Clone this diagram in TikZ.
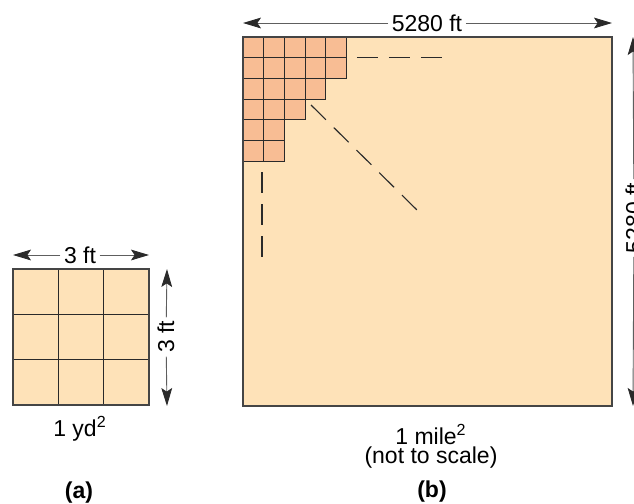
\documentclass[tikz,border=0pt]{standalone}
\usepackage{fontspec}
\setmainfont{Liberation Sans}
\usetikzlibrary{arrows.meta}
\definecolor{AreaFill}{HTML}{FEE2B8}
\definecolor{CellFill}{HTML}{F8BD94}
\definecolor{EdgeGray}{HTML}{454545}
\definecolor{GridDark}{HTML}{2A2A2A}
\definecolor{DimGray}{HTML}{5E5E5E}
\tikzset{
  dimarrow/.style={-{Stealth[length=9pt, width=5.4pt, inset=1.8pt, color=GridDark]}, line width=0.45pt, draw=DimGray},
  dimlabel/.style={fill=white, inner sep=1.6pt, font=\fontsize{11.5}{13}\selectfont},
  caption/.style={align=center, inner sep=0pt, font=\fontsize{11.5}{8}\selectfont},
  partlabel/.style={inner sep=0pt, font=\fontsize{11.5}{13}\selectfont\bfseries},
  gridline/.style={draw=GridDark, line width=0.5pt},
  cellbox/.style={fill=CellFill, draw=GridDark, line width=0.5pt},
  outline/.style={draw=EdgeGray, line width=0.8pt},
  guide/.style={draw=GridDark, line width=0.55pt, dash pattern=on 10.5pt off 5.5pt}
}
\begin{document}
\begin{tikzpicture}[x=0.5pt, y=-0.5pt]
\useasboundingbox (0,0) rectangle (634,504);
\fill[AreaFill] (13,269) rectangle (149,405);
\foreach \k in {1,2} {
  \draw[gridline] ({13+\k*45.33},269) -- ({13+\k*45.33},405);
  \draw[gridline] (13,{269+\k*45.33}) -- (149,{269+\k*45.33});
}
\draw[outline, line width=0.6pt] (13,269) rectangle (149,405);
\coordinate (aw-l) at (13,255);
\coordinate (aw-r) at (149,255);
\coordinate (ah-t) at (167,269);
\coordinate (ah-b) at (167,406);
\node[dimlabel] (aw) at (80,255) {3 ft};
\node[dimlabel, rotate=90] (ah) at (166,337) {3 ft};
\draw[dimarrow] (aw) -- (aw-l);
\draw[dimarrow] (aw) -- (aw-r);
\draw[dimarrow] (ah) -- (ah-t);
\draw[dimarrow] (ah) -- (ah-b);
\node[caption] (acap) at (80,429) {1 yd\textsuperscript{2}};
\node[partlabel] (apart) at (79,493) {(a)};
\fill[AreaFill] (243,37) rectangle (612,406);
\foreach \r/\n in {0/5,1/5,2/4,3/3,4/2,5/2} {
  \foreach \c in {1,...,\n} {
    \draw[cellbox] ({243+(\c-1)*20.67},{37+\r*20.67}) rectangle ++(20.67,20.67);
  }
}
\draw[outline] (243,37) rectangle (612,406);
\coordinate (h-s) at (357,57.5);
\coordinate (h-e) at (442,57.5);
\coordinate (d-s) at (311,105);
\coordinate (d-e) at (417,210);
\coordinate (v-s) at (262,172);
\coordinate (v-e) at (262,258);
\draw[guide] (h-s) -- (h-e);
\draw[guide] (d-s) -- (d-e);
\draw[guide] (v-s) -- (v-e);
\coordinate (bw-l) at (243,23);
\coordinate (bw-r) at (612,23);
\coordinate (bh-t) at (633,37);
\coordinate (bh-b) at (633,406);
\node[dimlabel] (bw) at (427,23) {5280 ft};
\node[dimlabel, rotate=90] (bh) at (634,218) {5280 ft};
\draw[dimarrow] (bw) -- (bw-l);
\draw[dimarrow] (bw) -- (bw-r);
\draw[dimarrow] (bh) -- (bh-t);
\draw[dimarrow] (bh) -- (bh-b);
\node[caption] (bcap) at (431,446) {1 mile\textsuperscript{2}\\(not to scale)};
\node[partlabel] (bpart) at (432,492) {(b)};
\end{tikzpicture}
\end{document}
